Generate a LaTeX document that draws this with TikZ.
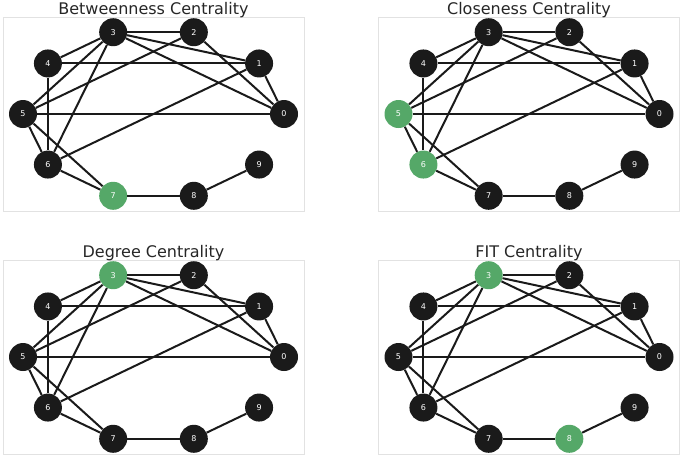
\documentclass[tikz,border=0pt]{standalone}
\usepackage{fontspec}
\setmainfont{DejaVu Sans}
\definecolor{nodeblack}{HTML}{1A1A1A}
\definecolor{seagreen}{HTML}{55A868}
\definecolor{framegrey}{HTML}{E2E2E2}
\definecolor{titlegrey}{HTML}{262626}

\begin{document}
\begin{tikzpicture}[x=1pt,y=-1pt,
    vertex/.style={circle,fill=nodeblack,text=white,minimum size=28pt,inner sep=0pt,font=\fontsize{8}{8}\selectfont},
    hot/.style={fill=seagreen},
    hlb7/.style={hot},hlc5/.style={hot},hlc6/.style={hot},
    hld3/.style={hot},hlf3/.style={hot},hlf8/.style={hot},
    edge/.style={draw=nodeblack,line width=2pt},
    panel/.style={draw=framegrey,line width=0.8pt},
    paneltitle/.style={text=titlegrey,font=\fontsize{16}{16}\selectfont,anchor=base}]
  \useasboundingbox (0,0) rectangle (685,459);
  % one panel per centrality measure, same circular layout
  \foreach \p/\cx/\cy/\name in {b/153.5/114/Betweenness,c/529/114/Closeness,d/153.5/357/Degree,f/529/357/FIT}{
    \draw[panel] (\cx-150.5,\cy-97) rectangle (\cx+150.5,\cy+97);
    \node[paneltitle] (\p title) at (\cx,\cy-100) {\name\ Centrality};
    \foreach \k in {0,...,9}
      \node[vertex,hl\p\k/.try] (\p\k) at ({\cx+130.5*cos(36*\k)},{\cy-86*sin(36*\k)}) {\k};
    \foreach \u/\v in {3/2,3/1,3/0,3/4,3/5,3/6,2/0,2/5,4/1,4/6,1/0,1/6,5/0,5/6,5/7,6/7,7/8,8/9}
      \draw[edge] (\p\u) -- (\p\v);
  }
\end{tikzpicture}
\end{document}
